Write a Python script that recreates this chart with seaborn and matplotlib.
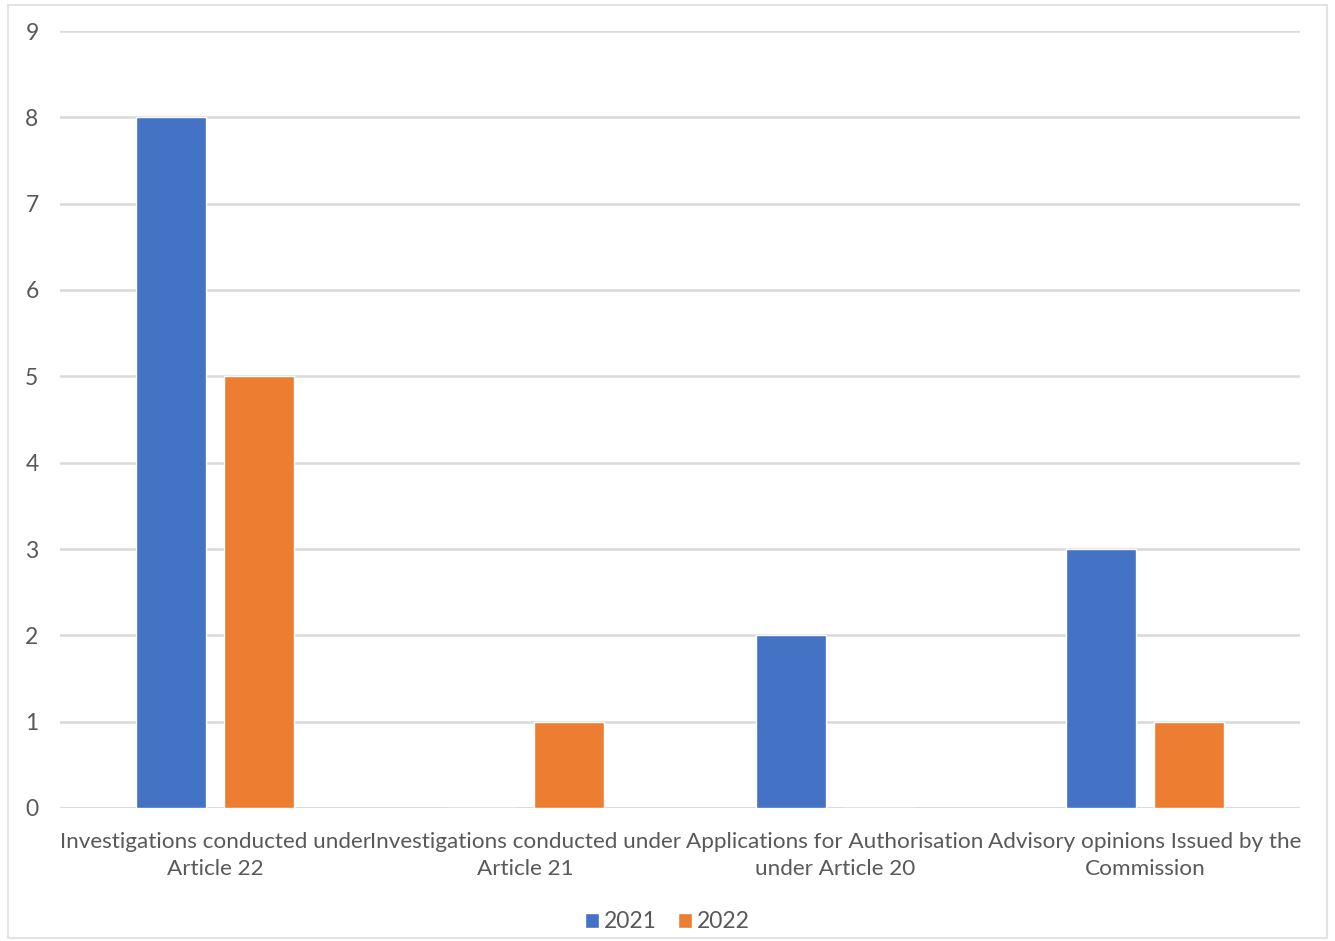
import matplotlib
matplotlib.use("Agg")
import matplotlib.pyplot as plt
import seaborn as sns
import pandas as pd
from matplotlib.patches import Patch, Rectangle

categories = [
    "Investigations conducted under\nArticle 22",
    "Investigations conducted under\nArticle 21",
    "Applications for Authorisation\nunder Article 20",
    "Advisory opinions Issued by the\nCommission",
]
years = ["2021", "2022"]
values_2021 = [8, 0, 2, 3]
values_2022 = [5, 1, 0, 1]
colors = {"2021": "#4472C4", "2022": "#ED7D31"}

df = pd.DataFrame({
    "category": categories * 2,
    "year": [years[0]] * 4 + [years[1]] * 4,
    "count": values_2021 + values_2022,
})

sns.set_theme(style="white")
plt.rcParams["font.family"] = ["Lato", "DejaVu Sans"]

fig = plt.figure(figsize=(13.35, 9.41), dpi=100)
ax = fig.add_axes([60 / 1335, 1 - 808 / 941, 1240 / 1335, (808 - 31) / 941])

sns.barplot(data=df, x="category", y="count", hue="year", palette=colors,
            width=0.568, gap=0.2, ax=ax, legend=False, saturation=1)

ax.set_xlim(-0.5, 3.5)
ax.set_ylim(0, 9)
ax.set_yticks(range(0, 10))
ax.yaxis.grid(True, color="#D9D9D9", linewidth=1.8)
ax.set_axisbelow(True)
for s in ax.spines.values():
    s.set_visible(False)
ax.axhline(0, color="#D9D9D9", linewidth=1.8, zorder=0)
ax.set_xlabel("")
ax.set_ylabel("")
ax.tick_params(axis="x", length=0, labelsize=16.2, labelcolor="#595959", pad=17)
ax.tick_params(axis="y", length=0, labelsize=16.5, labelcolor="#595959")
for lbl in ax.get_xticklabels():
    lbl.set_linespacing(1.45)
for lbl in ax.get_yticklabels():
    lbl.set_horizontalalignment("left")
ax.yaxis.set_tick_params(pad=25)

handles = [Patch(facecolor=colors[y], label=y) for y in years]
fig.legend(handles=handles, loc="center", bbox_to_anchor=(0.5, 1 - 922 / 941),
           ncol=2, frameon=False, fontsize=16.5, handlelength=0.6, handleheight=0.6,
           handletextpad=0.25, columnspacing=0.9, labelcolor="#595959")

fig.patches.append(Rectangle((0.006, 0.003), 0.988, 0.992, transform=fig.transFigure,
                             fill=False, edgecolor="#E3E3E3", linewidth=1.5))

fig.savefig("out.png", dpi=100, facecolor="white")
